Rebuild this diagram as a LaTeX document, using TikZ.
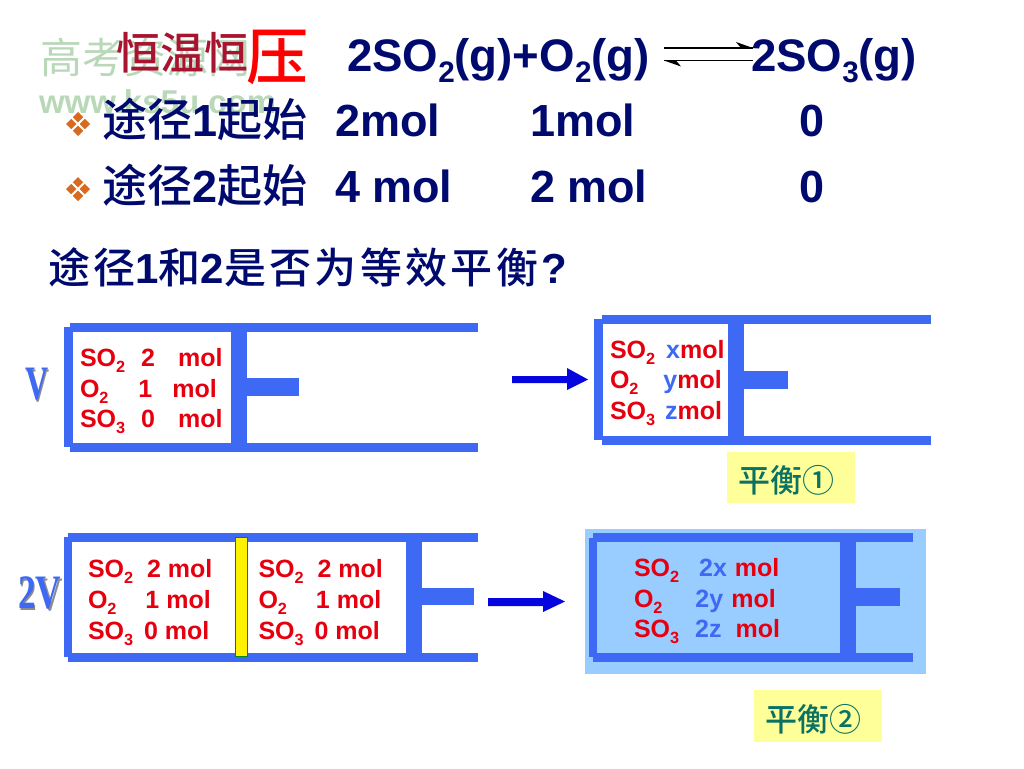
\documentclass[tikz,border=0pt]{standalone}
\usepackage{fontspec}
\usepackage{graphicx}
\setmainfont{Liberation Sans}
\newfontfamily\cjk{Noto Sans CJK SC}[BoldFont=Noto Sans CJK SC Medium]
\newfontfamily\cjkspaced[LetterSpace=8]{Noto Sans CJK SC}[BoldFont=Noto Sans CJK SC Medium]
\newfontfamily\serifv{Liberation Serif}
\definecolor{navy}{HTML}{000A6E}
\definecolor{wall}{HTML}{3D69F5}
\definecolor{molred}{HTML}{E6000F}
\definecolor{titlered}{HTML}{A8142F}
\definecolor{teal2}{HTML}{0B7263}
\definecolor{paleyellow}{HTML}{FFFF99}
\definecolor{sky}{HTML}{99CCFF}
\definecolor{bulletc}{HTML}{D9691E}
\definecolor{arrowblue}{HTML}{0505E0}
\newcommand\sz[1]{\fontsize{#1pt}{#1pt}\selectfont}
\newcommand\dn[1]{\raisebox{-.26em}{\scalebox{.65}{#1}}}
\newcommand\Z[1]{{\cjk\bfseries #1}}
\newcommand\bl[1]{\textcolor{wall}{#1}}
\newcommand\gp[1]{\hspace*{#1pt}}
\tikzset{
  every node/.style={inner sep=0pt,outer sep=0pt,anchor=base west},
  head/.style={font=\sz{45}\bfseries,text=navy},
  eqn/.style={font=\sz{45.6}\bfseries,text=navy},
  mol/.style={font=\sz{25}\bfseries,text=molred},
  wallfill/.style={fill=wall},
  tag/.style={fill=paleyellow},
  tagtext/.style={font=\sz{32}\cjk\bfseries,text=teal2},
  bluearrow/.style={fill=arrowblue},
  volshadow/.style={font=\serifv\bfseries\sz{32},text=black!45},
  vol/.style={font=\serifv\bfseries\sz{32},text=wall},
  eqline/.style={draw=black,line width=1.6pt},
}
\newcommand\bulletmark[2]{%
  \foreach \dx/\dy in {-6.8/0,6.8/0,0/-6.8,0/6.8}{
    \fill[bulletc] ({#1+\dx-5.2},{#2+\dy}) -- ({#1+\dx},{#2+\dy-5.2}) -- ({#1+\dx+5.2},{#2+\dy}) -- ({#1+\dx},{#2+\dy+5.2}) -- cycle;
  }}
\begin{document}
\begin{tikzpicture}[x=1pt,y=-1pt]
\useasboundingbox (0,0) rectangle (1024,768);
\fill[white] (0,0) rectangle (1024,768);
% watermark
\node[font=\sz{42}\cjk,text=green!45!black,opacity=.28] (wm1) at (40,73) {高考资源网};
\node[font=\sz{33}\bfseries,text=green!45!black,opacity=.28] (wm2) at (39,113) {www.ks5u.com};
% title
\node[font=\sz{44}\cjk\bfseries,text=titlered] (title) at (116,69) {恒温恒};
\node[font=\sz{62}\cjk\bfseries,text=red] (ya) at (246,79) {压};
\node[eqn] (eqa) at (347,71) {2SO\dn{2}(g)+O\dn{2}(g)};
\node[eqn] (eqb) at (751,71) {2SO\dn{3}(g)};
\coordinate (ra) at (664,48); \coordinate (rb) at (753,48);
\coordinate (la) at (753,60.5); \coordinate (lb) at (664,60.5);
\draw[eqline] (ra) -- (rb);
\fill[black] (rb) -- ++(-17,-6) -- ++(5,6) -- cycle;
\draw[eqline] (la) -- (lb);
\fill[black] (lb) -- ++(17,6) -- ++(-5,-6) -- cycle;
% rows
\bulletmark{78}{124}
\bulletmark{78}{189}
\node[head] (r1a) at (102,136) {\Z{途径}1\Z{起始}};
\node[head] (r1b) at (335,136) {2mol};
\node[head] (r1c) at (530,136) {1mol};
\node[head] (r1d) at (799,136) {0};
\node[head] (r2a) at (102,202) {\Z{途径}2\Z{起始}};
\node[head] (r2b) at (335,202) {4 mol};
\node[head] (r2c) at (530,202) {2 mol};
\node[head] (r2d) at (799,202) {0};
\node[font=\sz{42}\bfseries,text=navy] (q) at (48,283) {{\cjkspaced\bfseries 途径}1{\cjkspaced\bfseries 和}2{\cjkspaced\bfseries 是否为等效平衡}\gp{3}?};
% cylinder V
\fill[wallfill] (70,323) rectangle (478,332);
\fill[wallfill] (64,327) rectangle (73,447);
\fill[wallfill] (70,443) rectangle (478,452);
\fill[wallfill] (231,323) rectangle (247,452);
\fill[wallfill] (247,378) rectangle (299,396);
\node[mol] (a1) at (80,366) {SO\dn{2}\gp{16}2\gp{23}mol};
\node[mol] (a2) at (80,397) {O\dn{2}\gp{30}1\gp{20}mol};
\node[mol] (a3) at (80,427) {SO\dn{3}\gp{16}0\gp{23}mol};
\node[volshadow] (vs) at (26.5,401) {\scalebox{1}[1.5]{V}};
\node[vol] (v) at (25,399.5) {\scalebox{1}[1.5]{V}};
% cylinder xyz
\fill[wallfill] (602,315) rectangle (931,324);
\fill[wallfill] (594,319) rectangle (603,440);
\fill[wallfill] (602,436) rectangle (931,444.5);
\fill[wallfill] (728,315) rectangle (744,444.5);
\fill[wallfill] (744,371) rectangle (788,389);
\node[mol] (b1) at (610,358) {SO\dn{2}\gp{11}\bl{x}mol};
\node[mol] (b2) at (610,388) {O\dn{2}\gp{25}\bl{y}mol};
\node[mol] (b3) at (610,419) {SO\dn{3}\gp{10}\bl{z}mol};
\fill[bluearrow] (512,376) -- (567,376) -- (567,368) -- (588,379.5) -- (567,390) -- (567,383) -- (512,383) -- cycle;
\fill[tag] (727,452) rectangle (855,503);
\node[tagtext] (t1) at (738,492) {平衡①};
% cylinder 2V
\fill[wallfill] (68,533) rectangle (478,541.5);
\fill[wallfill] (64,537) rectangle (72,657);
\fill[wallfill] (68,653) rectangle (478,662);
\fill[wallfill] (406,533) rectangle (422,662);
\fill[wallfill] (422,588) rectangle (474,605);
\draw[fill=yellow,draw=green!55!black,line width=.6pt] (235.5,537.5) rectangle (247,656.5);
\node[mol] (c1) at (88,577) {SO\dn{2}\gp{14}2 mol};
\node[mol] (c2) at (88,608) {O\dn{2}\gp{29}1 mol};
\node[mol] (c3) at (88,639) {SO\dn{3}\gp{11}0 mol};
\node[mol] (d1) at (258.5,577) {SO\dn{2}\gp{14}2 mol};
\node[mol] (d2) at (258.5,608) {O\dn{2}\gp{29}1 mol};
\node[mol] (d3) at (258.5,639) {SO\dn{3}\gp{11}0 mol};
\node[volshadow] (v2s) at (19.5,610) {\scalebox{1.1}[1.5]{2V}};
\node[vol] (v2) at (18,608.5) {\scalebox{1.1}[1.5]{2V}};
% equilibrium 2
\fill[sky] (584.5,529) rectangle (926,674);
\fill[wallfill] (593,533) rectangle (913,542);
\fill[wallfill] (589,538) rectangle (597,657);
\fill[wallfill] (593,653) rectangle (913,662);
\fill[wallfill] (840,533) rectangle (856,662);
\fill[wallfill] (856,588) rectangle (900,606);
\node[mol] (e1) at (634,576) {SO\dn{2}\gp{20}\bl{2x}\gp{8}mol};
\node[mol] (e2) at (634,607) {O\dn{2}\gp{33}\bl{2y}\gp{8}mol};
\node[mol] (e3) at (634,637) {SO\dn{3}\gp{16}\bl{2z}\gp{14}mol};
\fill[bluearrow] (488,598) -- (543,598) -- (543,591) -- (565,601.5) -- (543,612) -- (543,606) -- (488,606) -- cycle;
\fill[tag] (754,690) rectangle (882,742);
\node[tagtext] (t2) at (765,731) {平衡②};
\end{tikzpicture}
\end{document}
